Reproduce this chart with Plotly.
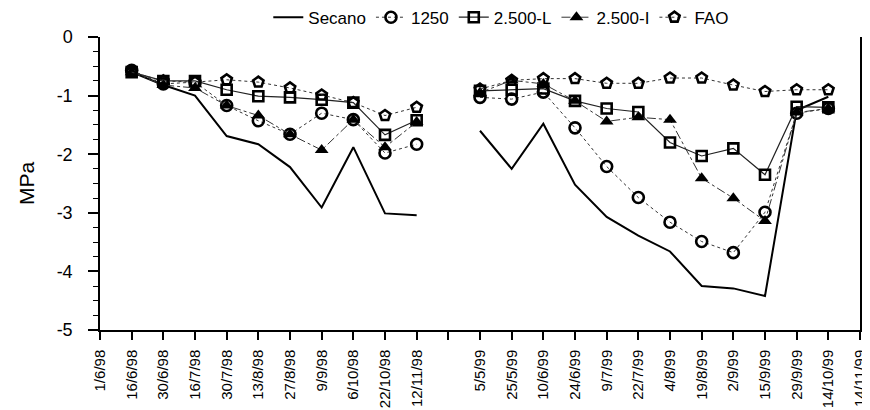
import plotly.graph_objects as go

categories = ["1/6/98", "16/6/98", "30/6/98", "16/7/98", "30/7/98", "13/8/98", "27/8/98",
              "9/9/98", "6/10/98", "22/10/98", "12/11/98", " ",
              "5/5/99", "25/5/99", "10/6/99", "24/6/99", "9/7/99", "22/7/99", "4/8/99",
              "19/8/99", "2/9/99", "15/9/99", "29/9/99", "14/10/99", "14/11/99"]

secano = [None, -0.60, -0.82, -1.00, -1.69, -1.83, -2.22, -2.91, -1.88, -3.01, -3.04, None,
          -1.60, -2.25, -1.48, -2.52, -3.07, -3.39, -3.66, -4.25, -4.29, -4.42, -1.25, -1.02, None]
s1250 = [None, -0.57, -0.80, -0.77, -1.17, -1.43, -1.66, -1.30, -1.41, -1.98, -1.83, None,
         -1.03, -1.06, -0.94, -1.55, -2.21, -2.74, -3.16, -3.49, -3.68, -2.99, -1.30, -1.22, None]
s2500L = [None, -0.60, -0.75, -0.75, -0.90, -1.01, -1.03, -1.07, -1.12, -1.67, -1.42, None,
          -0.92, -0.90, -0.88, -1.09, -1.22, -1.28, -1.80, -2.03, -1.90, -2.35, -1.19, -1.20, None]
s2500I = [None, -0.60, -0.82, -0.87, -1.17, -1.34, -1.66, -1.93, -1.41, -1.88, -1.45, None,
          -0.95, -0.74, -0.80, -1.09, -1.44, -1.37, -1.41, -2.41, -2.75, -3.14, -1.29, -1.22, None]
fao = [None, -0.60, -0.75, -0.77, -0.73, -0.77, -0.87, -0.99, -1.12, -1.34, -1.20, None,
       -0.89, -0.74, -0.71, -0.71, -0.79, -0.79, -0.70, -0.70, -0.82, -0.93, -0.90, -0.90, None]

ytick_vals = [0, -1, -2, -3, -4, -5]

FONT = "Liberation Sans, Arial, sans-serif"

fig = go.Figure()
fig.add_trace(go.Scatter(x=categories, y=secano, name="Secano", mode="lines",
                         line=dict(color="black", width=2)))
fig.add_trace(go.Scatter(x=categories, y=s1250, name="1250", mode="lines+markers",
                         line=dict(color="#333333", width=1, dash="dot"),
                         marker=dict(symbol="circle-open", size=11, color="black",
                                     line=dict(width=2.6, color="black"))))
fig.add_trace(go.Scatter(x=categories, y=s2500L, name="2.500-L", mode="lines+markers",
                         line=dict(color="#222222", width=1.2),
                         marker=dict(symbol="square-open", size=10, color="black",
                                     line=dict(width=2.6, color="black"))))
fig.add_trace(go.Scatter(x=categories, y=s2500I, name="2.500-I", mode="lines+markers",
                         line=dict(color="#333333", width=1, dash="dashdot"),
                         marker=dict(symbol="triangle-up", size=12, color="black")))
fig.add_trace(go.Scatter(x=categories, y=fao, name="FAO", mode="lines+markers",
                         line=dict(color="#333333", width=1, dash="dot"),
                         marker=dict(symbol="pentagon-open", size=11, color="black",
                                     line=dict(width=2.6, color="black"))))

fig.update_layout(
    width=870, height=410,
    margin=dict(l=92, r=18, t=29, b=88, autoexpand=False),
    paper_bgcolor="white", plot_bgcolor="white",
    font=dict(family=FONT, color="black"),
    showlegend=True,
    legend=dict(orientation="h", x=0.567, xanchor="center", xref="container",
                y=1.066, yanchor="middle", yref="paper",
                font=dict(size=17), itemwidth=30, tracegroupgap=0,
                bgcolor="rgba(0,0,0,0)"),
)
fig.update_xaxes(type="category", categoryorder="array", categoryarray=categories,
                 tickvals=categories, ticktext=categories,
                 range=[0, len(categories) - 1], tickangle=-90,
                 showline=True, linecolor="black", linewidth=1.5,
                 ticks="outside", ticklen=8, tickwidth=1.5, tickcolor="black",
                 ticklabelstandoff=4,
                 tickfont=dict(size=15), showgrid=False, zeroline=False, automargin=False)
fig.update_yaxes(range=[-5, 0], tickvals=ytick_vals, ticktext=[str(v) for v in ytick_vals],
                 showline=True, linecolor="black", linewidth=1.5, mirror=True,
                 ticks="outside", ticklen=10, tickwidth=1.5, tickcolor="black",
                 ticklabelstandoff=12,
                 minor=dict(dtick=0.25, ticks="outside", ticklen=5, tickwidth=1.2, tickcolor="black"),
                 tickfont=dict(size=18), showgrid=False, zeroline=False,
                 title=dict(text="MPa", font=dict(size=21), standoff=16), automargin=False)

fig.write_html("out.html")
